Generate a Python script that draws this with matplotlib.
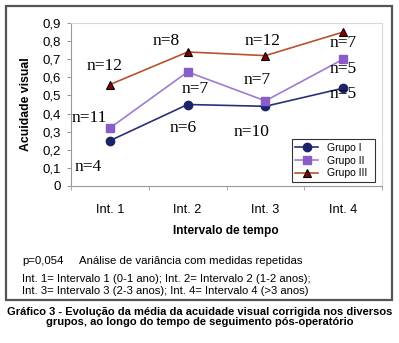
import matplotlib.pyplot as plt
from matplotlib.patches import Rectangle

plt.rcParams['font.family'] = ['Liberation Sans', 'DejaVu Sans']

categories = ["Int. 1", "Int. 2", "Int. 3", "Int. 4"]
grupo_1 = [0.25, 0.45, 0.44, 0.54]
grupo_2 = [0.32, 0.63, 0.47, 0.70]
grupo_3 = [0.56, 0.74, 0.72, 0.85]
y_ticks = [0, 0.1, 0.2, 0.3, 0.4, 0.5, 0.6, 0.7, 0.8, 0.9]

# sample size labels: (text, category index offset, y value)
n_labels = [
    ("n=12", -0.07, 0.66), ("n=11", -0.27, 0.375), ("n=4", -0.28, 0.105),
    ("n=8", -0.28, 0.80), ("n=7", 0.10, 0.535), ("n=6", -0.06, 0.32),
    ("n=12", -0.04, 0.80), ("n=7", -0.10, 0.585), ("n=10", -0.18, 0.30),
    ("n=7", 0.0, 0.79), ("n=5", 0.0, 0.645), ("n=5", 0.0, 0.51),
]
n_cat = [0, 0, 0, 1, 1, 1, 2, 2, 2, 3, 3, 3]

fig = plt.figure(figsize=(3.99, 3.43), dpi=100)
ax = fig.add_axes([71 / 399, 1 - 186 / 343, 311 / 399, 163 / 343])

x = range(len(categories))
ax.plot(x, grupo_1, color="#2a2f78", lw=1.2, marker="o", ms=6,
        mfc="#1c2366", mec="#1c2366", label="Grupo I")
ax.plot(x, grupo_2, color="#9c7dd0", lw=1.2, marker="s", ms=6,
        mfc="#8a5cc8", mec="#8a5cc8", label="Grupo II")
ax.plot(x, grupo_3, color="#b8522e", lw=1.2, marker="^", ms=6,
        mfc="#8b0000", mec="black", mew=0.8, label="Grupo III")

for (txt, dx, yv), ci in zip(n_labels, n_cat):
    ax.text(ci + dx, yv, txt, ha="center", va="center", fontsize=12.5,
            family=["Liberation Serif", "DejaVu Serif"])

ax.set_xlim(-0.5, 3.5)
ax.set_ylim(0, 0.9)
ax.set_yticks(y_ticks)
ax.set_yticklabels([f"{v:g}".replace(".", ",") for v in y_ticks], fontsize=9.5)
ax.set_xticks(list(x))
ax.set_xticklabels(categories, fontsize=9.2)
ax.set_xticks([-0.5, 0.5, 1.5, 2.5, 3.5], minor=True)
ax.tick_params(axis="x", which="major", length=0, pad=13)
ax.tick_params(axis="x", which="minor", length=3, color="#999999")
ax.tick_params(axis="y", length=3, color="#999999", pad=4)
for side in ["top", "right"]:
    ax.spines[side].set_color("#d8d8d8")
for side in ["left", "bottom"]:
    ax.spines[side].set_color("#999999")

ax.set_ylabel("Acuidade visual", fontsize=8.8, fontweight="bold", labelpad=8)

leg = ax.legend(loc="lower left", bbox_to_anchor=(0.71, 0.025, 0.267, 0.255),
                mode="expand", fontsize=7.5, frameon=True, fancybox=False,
                handlelength=2.2, borderpad=0.35, labelspacing=0.25, borderaxespad=0)
leg.get_frame().set_edgecolor("black")
leg.get_frame().set_linewidth(0.8)

fig.text(226 / 399, 1 - 231 / 343, "Intervalo de tempo", ha="center", va="center",
         fontsize=8.6, fontweight="bold")
fig.text(22 / 399, 1 - 261 / 343, "p=0,054", ha="left", va="center", fontsize=8.2)
fig.text(79 / 399, 1 - 261 / 343, "Análise de variância com medidas repetidas",
         ha="left", va="center", fontsize=8.2)
fig.text(22 / 399, 1 - 279.5 / 343,
         "Int. 1= Intervalo 1 (0-1 ano); Int. 2= Intervalo 2 (1-2 anos);",
         ha="left", va="center", fontsize=8.1)
fig.text(22 / 399, 1 - 290.5 / 343,
         "Int. 3= Intervalo 3 (2-3 anos); Int. 4= Intervalo 4 (>3 anos)",
         ha="left", va="center", fontsize=8.1)

fig.patches.append(Rectangle((6 / 399, 1 - 300 / 343), 386 / 399, 294 / 343,
                             transform=fig.transFigure, fill=False,
                             edgecolor="#555555", lw=1.6))

fig.text(200 / 399, 1 - 312 / 343,
         "Gráfico 3 - Evolução da média da acuidade visual corrigida nos diversos",
         ha="center", va="center", fontsize=8.0, fontweight="bold")
fig.text(200 / 399, 1 - 322 / 343,
         "grupos, ao longo do tempo de seguimento pós-operatório",
         ha="center", va="center", fontsize=8.0, fontweight="bold")

fig.savefig("out.png", dpi=100)
